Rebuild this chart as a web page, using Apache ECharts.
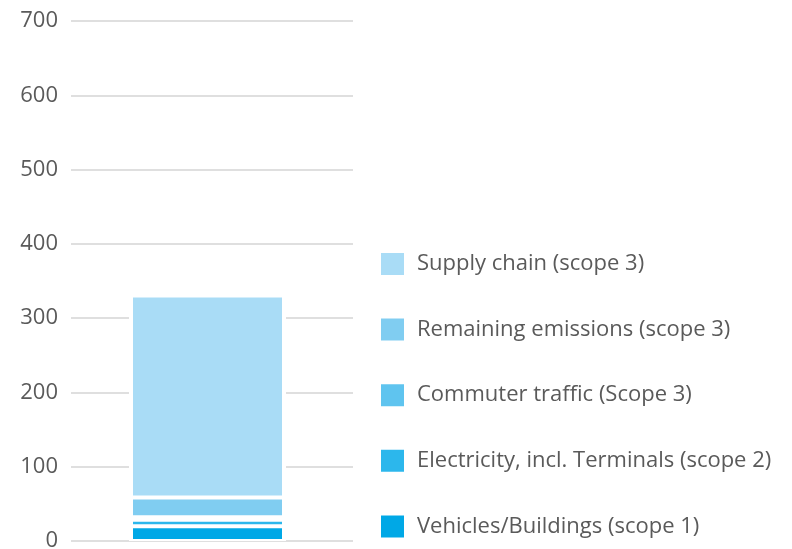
<!DOCTYPE html>
<html>
<head>
<meta charset="utf-8">
<script src="https://cdn.jsdelivr.net/npm/echarts@6/dist/echarts.min.js"></script>
<style>
  html, body { margin: 0; padding: 0; background: #ffffff; }
  #chart { width: 792px; height: 549px; }
</style>
</head>
<body>
<div id="chart"></div>
<script>
// Emissions by source, stacked in a single column
const categories = ['2019'];
const seriesNames = [
  'Vehicles/Buildings (scope 1)',
  'Electricity, incl. Terminals (scope 2)',
  'Commuter traffic (Scope 3)',
  'Remaining emissions (scope 3)',
  'Supply chain (scope 3)'
];
const vehiclesBuildings = [20];
const electricity = [8.5];
const commuterTraffic = [3.5];
const remainingEmissions = [26.5];
const supplyChain = [272];
const yTicks = [0, 100, 200, 300, 400, 500, 600, 700];

const seriesValues = [vehiclesBuildings, electricity, commuterTraffic, remainingEmissions, supplyChain];
const colors = ['#00a8e6', '#2cb7ec', '#5fc4ef', '#80cdf1', '#a9dcf6'];

// column totals, used for the white backing that breaks the gridlines around the column
const totals = categories.map((c, k) => seriesValues.reduce((sum, arr) => sum + arr[k], 0));

const chart = echarts.init(document.getElementById('chart'), null, { renderer: 'canvas' });

const hiddenCategoryAxis = () => ({
  type: 'category',
  data: categories,
  axisLine: { show: false },
  axisTick: { show: false },
  axisLabel: { show: false }
});

// white backing column, slightly wider than the stack
const backing = {
  name: 'backing',
  type: 'bar',
  xAxisIndex: 1,
  stack: 'backing',
  barWidth: 157,
  barGap: '0%',
  data: totals,
  silent: true,
  itemStyle: { color: '#ffffff' }
};

// empty spacers that nudge the column slightly left of the band centre
const makeSpacer = (axisIndex) => ({
  name: 'spacer' + axisIndex,
  type: 'bar',
  xAxisIndex: axisIndex,
  barWidth: 9,
  data: [null],
  silent: true,
  itemStyle: { color: 'transparent' }
});

const stackSeries = seriesNames.map((name, i) => ({
  name,
  type: 'bar',
  stack: 'total',
  barWidth: 153,
  barGap: '0%',
  data: seriesValues[i],
  itemStyle: { color: colors[i], borderColor: '#ffffff', borderWidth: 2 }
}));

chart.setOption({
  animation: false,
  backgroundColor: '#ffffff',
  textStyle: { fontFamily: 'Open Sans' },
  grid: { left: 71, right: 439, top: 21, bottom: 8, outerBoundsMode: 'none' },
  legend: {
    orient: 'vertical',
    left: 374,
    top: 246,
    height: 320,
    itemWidth: 25,
    itemHeight: 24,
    itemGap: 39.6,
    icon: 'rect',
    data: seriesNames.slice().reverse(),
    textStyle: { color: '#5a5a5a', fontSize: 22, lineHeight: 24, fontFamily: 'Open Sans', padding: [0, 0, 0, 7] }
  },
  xAxis: [hiddenCategoryAxis(), hiddenCategoryAxis()],
  yAxis: {
    type: 'value',
    min: yTicks[0],
    max: yTicks[yTicks.length - 1],
    interval: 100,
    axisLine: { show: false },
    axisTick: { show: false },
    axisLabel: { color: '#5a5a5a', fontSize: 22, margin: 13, fontFamily: 'Open Sans' },
    splitLine: { lineStyle: { color: '#d4d4d4', width: 1.5 } }
  },
  series: [backing, makeSpacer(1)].concat(stackSeries, [makeSpacer(0)])
});
</script>
</body>
</html>
